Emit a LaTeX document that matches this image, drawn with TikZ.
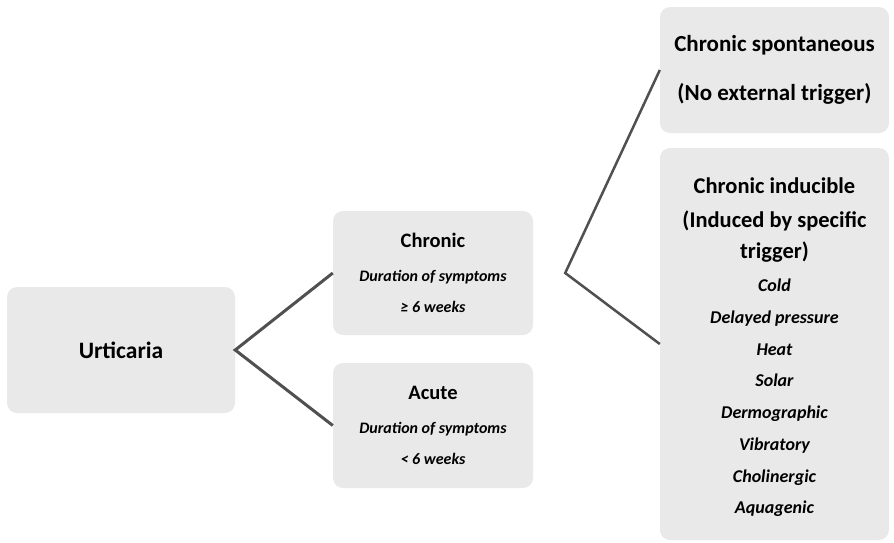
\documentclass[tikz,border=0pt]{standalone}
\usepackage{fontspec}
\setmainfont{Carlito}
\usetikzlibrary{positioning,calc}
\definecolor{boxgray}{RGB}{233,233,233}
\definecolor{linkgray}{RGB}{80,80,80}
\newcommand{\hd}[1]{\fontsize{#1}{31}\selectfont\upshape\bfseries}
\newcommand{\itm}[1]{\fontsize{#1}{31.7}\selectfont\bfseries\itshape}

\begin{document}
\begin{tikzpicture}[
  x=1pt, y=-1pt,
  box/.style={fill=boxgray, rounded corners=10pt, align=center, inner sep=0pt, font=\itm{16}},
  link/.style={draw=linkgray, line width=3pt, line join=miter}
]
\useasboundingbox (0,0) rectangle (894,542);

% ---- Level 1 ----
\node[box, minimum width=228pt, minimum height=126pt] (urt) at (121,350) {{\hd{23.5}Urticaria}};

% ---- Level 2 ----
\node[box, minimum width=200pt, minimum height=124pt] (chr) at (433,273)
  {{\hd{20.5}Chronic}\\[2pt] Duration of symptoms\\ ≥ 6 weeks};
\node[box, minimum width=200pt, minimum height=125pt] (acu) at (433,425.5)
  {{\hd{20.5}Acute}\\[2pt] Duration of symptoms\\ < 6 weeks};
\coordinate (fork) at ($(chr.east)+(32,0)$);

% ---- Level 3 ----
\node[box, minimum width=229pt, minimum height=126pt] (csp) at (774.5,70)
  {{\hd{23}Chronic spontaneous}\\[17pt] {\hd{23}(No external trigger)}};
\node[box, minimum width=229pt, minimum height=392pt, font=\itm{18}] (cin) at (774.5,344) {};
\node[font=\itm{18}, align=center, inner sep=0pt] (trig) at ($(cin.center)+(0,3.5)$)
  {{\hd{22.5}Chronic inducible}\\[2.3pt] {\hd{22.5}(Induced by specific}\\[-1.5pt] {\hd{22.5}trigger)}\\[2pt]
   Cold\\ Delayed pressure\\ Heat\\ Solar\\ Dermographic\\ Vibratory\\ Cholinergic\\ Aquagenic};

% connectors
\draw[link] (chr.west) -- (urt.east) -- (acu.west);
\draw[link, line width=2.5pt] (csp.west) -- (fork) -- (cin.west);
\end{tikzpicture}
\end{document}
